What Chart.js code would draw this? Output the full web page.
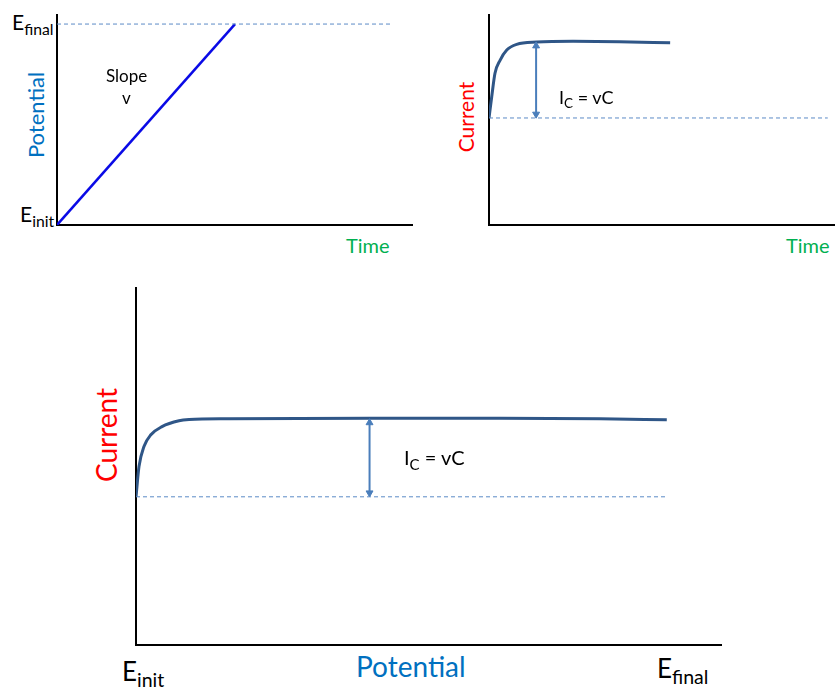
<!DOCTYPE html>
<html>
<head>
<meta charset="utf-8">
<script src="https://cdn.jsdelivr.net/npm/chart.js@4.4.1/dist/chart.umd.min.js"></script>
<style>
  body { margin: 0; background: #fff; }
  #wrap { position: relative; width: 835px; height: 688px; overflow: hidden; font-family: Lato, "Open Sans", sans-serif; }
  canvas.plot { position: absolute; }
  .lbl { position: absolute; white-space: nowrap; line-height: 1; color: #000; }
  .lbl sub { font-size: 0.75em; vertical-align: -0.3em; line-height: 1; }
  .rot { transform: translate(-50%, -50%) rotate(-90deg); }
</style>
</head>
<body>
<div id="wrap">
  <canvas id="ramp" class="plot" width="357" height="212" style="left:56px;top:14px"></canvas>
  <canvas id="step" class="plot" width="347" height="212" style="left:488px;top:14px"></canvas>
  <canvas id="sweep" class="plot" width="587" height="359" style="left:135px;top:287px"></canvas>
</div>
<script>
// potential vs time (time in ramp units, potential from E_init = 0 to E_final = 1)
const rampTime = [0, 1];
const rampPotential = [0, 1];
const finalTime = [0, 1.88];
const finalLevel = [1, 1];

// current vs time (current relative to the charging plateau)
const stepTime = [0, 0.015, 0.033, 0.061, 0.098, 0.153, 0.264, 0.464, 0.72, 1.0];
const stepCurrent = [0, 0.28, 0.59, 0.76, 0.895, 0.97, 1.0, 1.01, 1.005, 0.99];
const stepBaseTime = [0, 1.87];
const stepArrowTime = 0.26;

// current vs potential
const sweepPotential = [0, 0.0057, 0.015, 0.028, 0.049, 0.081, 0.1, 0.175, 0.44, 0.685, 0.874, 1.0];
const sweepCurrent = [0, 0.39, 0.645, 0.795, 0.9, 0.975, 0.99, 1.0, 1.006, 1.006, 1.0, 0.987];
const sweepBasePotential = [0, 1.0];
const sweepArrowPotential = 0.44;

const curveColor = "#2f5687";
const dashColor = "#5b8ac6";
const arrowColor = "#4a7ebb";

function pairs(xs, ys) {
  return xs.map((x, i) => ({ x: x, y: ys[i] }));
}

function axis(min, max, horizontal) {
  return {
    type: "linear",
    min: min,
    max: max,
    grid: { display: false, drawTicks: false },
    ticks: { display: false, padding: 0 },
    border: { display: true, color: "#000", width: 2 },
    // no tick labels, so the axis itself takes no room
    afterFit: (scale) => {
      if (horizontal) scale.height = 0;
      else scale.width = 0;
    },
  };
}

function dashed(xs, y) {
  return {
    data: pairs(xs, xs.map(() => y)),
    borderColor: dashColor,
    borderWidth: 1,
    borderDash: [4, 3],
    pointRadius: 0,
  };
}

function arrow(x, lo, hi) {
  return {
    data: [{ x: x, y: lo }, { x: x, y: hi }],
    borderColor: arrowColor,
    backgroundColor: arrowColor,
    borderWidth: 2,
    pointStyle: "triangle",
    pointRadius: 4,
    pointRotation: [180, 0],
    pointBorderWidth: 1,
  };
}

function makeChart(id, datasets, xMin, xMax, yMin, yMax) {
  return new Chart(document.getElementById(id), {
    type: "line",
    data: { datasets: datasets },
    options: {
      responsive: false,
      animation: false,
      layout: { autoPadding: false, padding: { left: 1, bottom: 1, top: 0, right: 0 } },
      plugins: { legend: { display: false }, tooltip: { enabled: false } },
      scales: { x: axis(xMin, xMax, true), y: axis(yMin, yMax, false) },
    },
  });
}

makeChart("ramp", [
  dashed(finalTime, finalLevel[0]),
  {
    data: pairs(rampTime, rampPotential),
    borderColor: "#0a0ae6",
    borderWidth: 2.5,
    pointRadius: 0,
  },
], 0, 2.0, 0, 1.05);

makeChart("step", [
  dashed(stepBaseTime, 0),
  arrow(stepArrowTime, 0.05, 0.95),
  {
    data: pairs(stepTime, stepCurrent),
    borderColor: curveColor,
    borderWidth: 3,
    pointRadius: 0,
    cubicInterpolationMode: "monotone",
  },
], 0, 1.91, -1.41, 1.37);

makeChart("sweep", [
  dashed(sweepBasePotential, 0),
  arrow(sweepArrowPotential, 0.05, 0.95),
  {
    data: pairs(sweepPotential, sweepCurrent),
    borderColor: curveColor,
    borderWidth: 3,
    pointRadius: 0,
    cubicInterpolationMode: "monotone",
  },
], 0, 1.104, -1.9, 2.69);

// text labels
const wrap = document.getElementById("wrap");
function label(html, left, top, size, color, rotate) {
  const el = document.createElement("div");
  el.className = "lbl" + (rotate ? " rot" : "");
  el.innerHTML = html;
  el.style.left = left + "px";
  el.style.top = top + "px";
  el.style.fontSize = size + "px";
  if (color) el.style.color = color;
  wrap.appendChild(el);
}

label("E<sub>final</sub>", 12, 11, 21);
label("E<sub>init</sub>", 20, 203, 21);
label("Potential", 36, 115, 22, "#0070c0", true);
label("Slope", 106, 67, 17);
label("v", 122, 89, 17);
label("Time", 346, 235, 20, "#00b050");

label("Current", 465, 117, 21, "#ff0000", true);
label("I<sub>C</sub> = vC", 559, 88, 18);
label("Time", 786, 235, 20, "#00b050");

label("Current", 106, 435, 28, "#ff0000", true);
label("I<sub>C</sub> = vC", 404, 447, 20);
label("Potential", 356, 652, 28, "#0070c0");
label("E<sub>init</sub>", 122, 658, 26);
label("E<sub>final</sub>", 657, 655, 26);
</script>
</body>
</html>
